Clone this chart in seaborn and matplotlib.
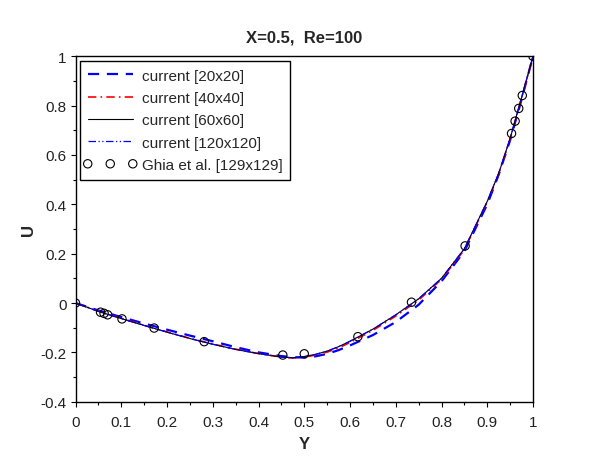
import numpy as np
import pandas as pd
import matplotlib
matplotlib.use("Agg")
import matplotlib.pyplot as plt
from matplotlib.ticker import MultipleLocator
from matplotlib.collections import PathCollection
from matplotlib.legend_handler import HandlerPathCollection
import seaborn as sns

# ---------------- data ----------------
y_grid = [0.0, 0.05, 0.1, 0.15, 0.2, 0.25, 0.3, 0.35, 0.4, 0.45, 0.475, 0.5,
          0.525, 0.55, 0.575, 0.6, 0.65, 0.7, 0.75, 0.8, 0.85, 0.9, 0.925,
          0.95, 0.975, 1.0]

u_20 = [0.0, -0.030, -0.057, -0.083, -0.108, -0.132, -0.155, -0.179, -0.200,
        -0.215, -0.220, -0.221, -0.216, -0.206, -0.191, -0.172, -0.130, -0.077,
        -0.007, 0.088, 0.210, 0.400, 0.520, 0.660, 0.825, 1.0]

u_40 = [0.0, -0.033, -0.062, -0.090, -0.117, -0.143, -0.166, -0.187, -0.205,
        -0.219, -0.223, -0.219, -0.211, -0.199, -0.182, -0.160, -0.111, -0.053,
        0.012, 0.096, 0.216, 0.410, 0.524, 0.665, 0.830, 1.0]

u_60 = [0.0, -0.034, -0.063, -0.091, -0.118, -0.144, -0.167, -0.188, -0.205,
        -0.219, -0.222, -0.217, -0.208, -0.195, -0.177, -0.155, -0.106, -0.048,
        0.017, 0.100, 0.220, 0.412, 0.525, 0.667, 0.832, 1.0]

u_120 = [0.0, -0.034, -0.063, -0.091, -0.118, -0.144, -0.167, -0.188, -0.205,
         -0.219, -0.222, -0.217, -0.208, -0.195, -0.177, -0.155, -0.106, -0.048,
         0.017, 0.100, 0.220, 0.412, 0.525, 0.667, 0.832, 1.0]

ghia_y = [1.0000, 0.9766, 0.9688, 0.9609, 0.9531, 0.8516, 0.7344, 0.6172, 0.5000,
          0.4531, 0.2813, 0.1719, 0.1016, 0.0703, 0.0625, 0.0547, 0.0000]
ghia_u = [1.0000, 0.84123, 0.78871, 0.73722, 0.68717, 0.23151, 0.00332, -0.13641,
          -0.20581, -0.21090, -0.15662, -0.10150, -0.06434, -0.04775, -0.04192,
          -0.03717, 0.0]

labels = ["current [20x20]", "current [40x40]", "current [60x60]",
          "current [120x120]", "Ghia et al. [129x129]"]

title = "X=0.5,  Re=100"
xlabel = "Y"
ylabel = "U"

# ---------------- style ----------------
sns.set_style("white")
plt.rcParams["font.family"] = ["Liberation Sans", "DejaVu Sans"]
plt.rcParams["axes.linewidth"] = 1.0

fig = plt.figure(figsize=(6.1, 4.6), dpi=100)
ax = fig.add_axes([75.5 / 610, 1 - 402.7 / 460, (533 - 75.5) / 610, (402.7 - 57.3) / 460])

df20 = pd.DataFrame({"Y": y_grid, "U": u_20})
df40 = pd.DataFrame({"Y": y_grid, "U": u_40})
df60 = pd.DataFrame({"Y": y_grid, "U": u_60})
df120 = pd.DataFrame({"Y": y_grid, "U": u_120})
dfg = pd.DataFrame({"Y": ghia_y, "U": ghia_u})

sns.lineplot(data=df20, x="Y", y="U", ax=ax, color="#0000ff", lw=1.6,
             linestyle=(0, (5, 3.5)), label=labels[0])
sns.lineplot(data=df40, x="Y", y="U", ax=ax, color="#ff0000", lw=1.2,
             linestyle=(0, (5, 2.5, 1, 2.5)), label=labels[1])
sns.lineplot(data=df60, x="Y", y="U", ax=ax, color="black", lw=0.8,
             linestyle="-", label=labels[2])
sns.lineplot(data=df120, x="Y", y="U", ax=ax, color="#0000ff", lw=0.9,
             linestyle=(0, (6, 2, 1, 2, 1, 2)), label=labels[3])
sns.scatterplot(data=dfg, x="Y", y="U", ax=ax, marker="o", s=36,
                facecolor="none", edgecolor="black", linewidth=0.8,
                label=labels[4], zorder=5)

ax.set_xlim(0, 1)
ax.set_ylim(-0.4, 1)
ax.xaxis.set_major_locator(MultipleLocator(0.1))
ax.xaxis.set_minor_locator(MultipleLocator(0.05))
ax.yaxis.set_major_locator(MultipleLocator(0.2))
ax.yaxis.set_minor_locator(MultipleLocator(0.1))
ax.set_xticklabels([("%g" % v) for v in ax.get_xticks()])
ax.set_yticklabels([("%g" % v) for v in ax.get_yticks()])

ax.tick_params(which="both", direction="out", top=False, right=False,
               bottom=True, left=True, color="black", labelcolor="#222222",
               labelsize=11)
ax.tick_params(which="major", length=3.5, width=0.8)
ax.tick_params(which="minor", length=2, width=0.8)
ax.tick_params(axis="x", pad=6)
ax.tick_params(axis="y", pad=3)

for sp in ax.spines.values():
    sp.set_visible(True)
    sp.set_color("black")
    sp.set_linewidth(1.0)

ax.set_title(title, fontsize=12, fontweight="bold", pad=11)
ax.set_xlabel(xlabel, fontsize=12, fontweight="bold", labelpad=5)
ax.set_ylabel(ylabel, fontsize=12, fontweight="bold", labelpad=3)

leg = ax.legend(loc="upper left", fontsize=11, frameon=True, fancybox=False,
                edgecolor="black", framealpha=1, borderaxespad=0.3,
                handlelength=2.95, handletextpad=0.6, labelspacing=0.55,
                borderpad=0.5,
                handler_map={PathCollection: HandlerPathCollection(
                    numpoints=3, marker_pad=0.0, yoffsets=[0.5, 0.5, 0.5])})
leg.get_frame().set_linewidth(1.0)

fig.savefig("out.png", dpi=100)
